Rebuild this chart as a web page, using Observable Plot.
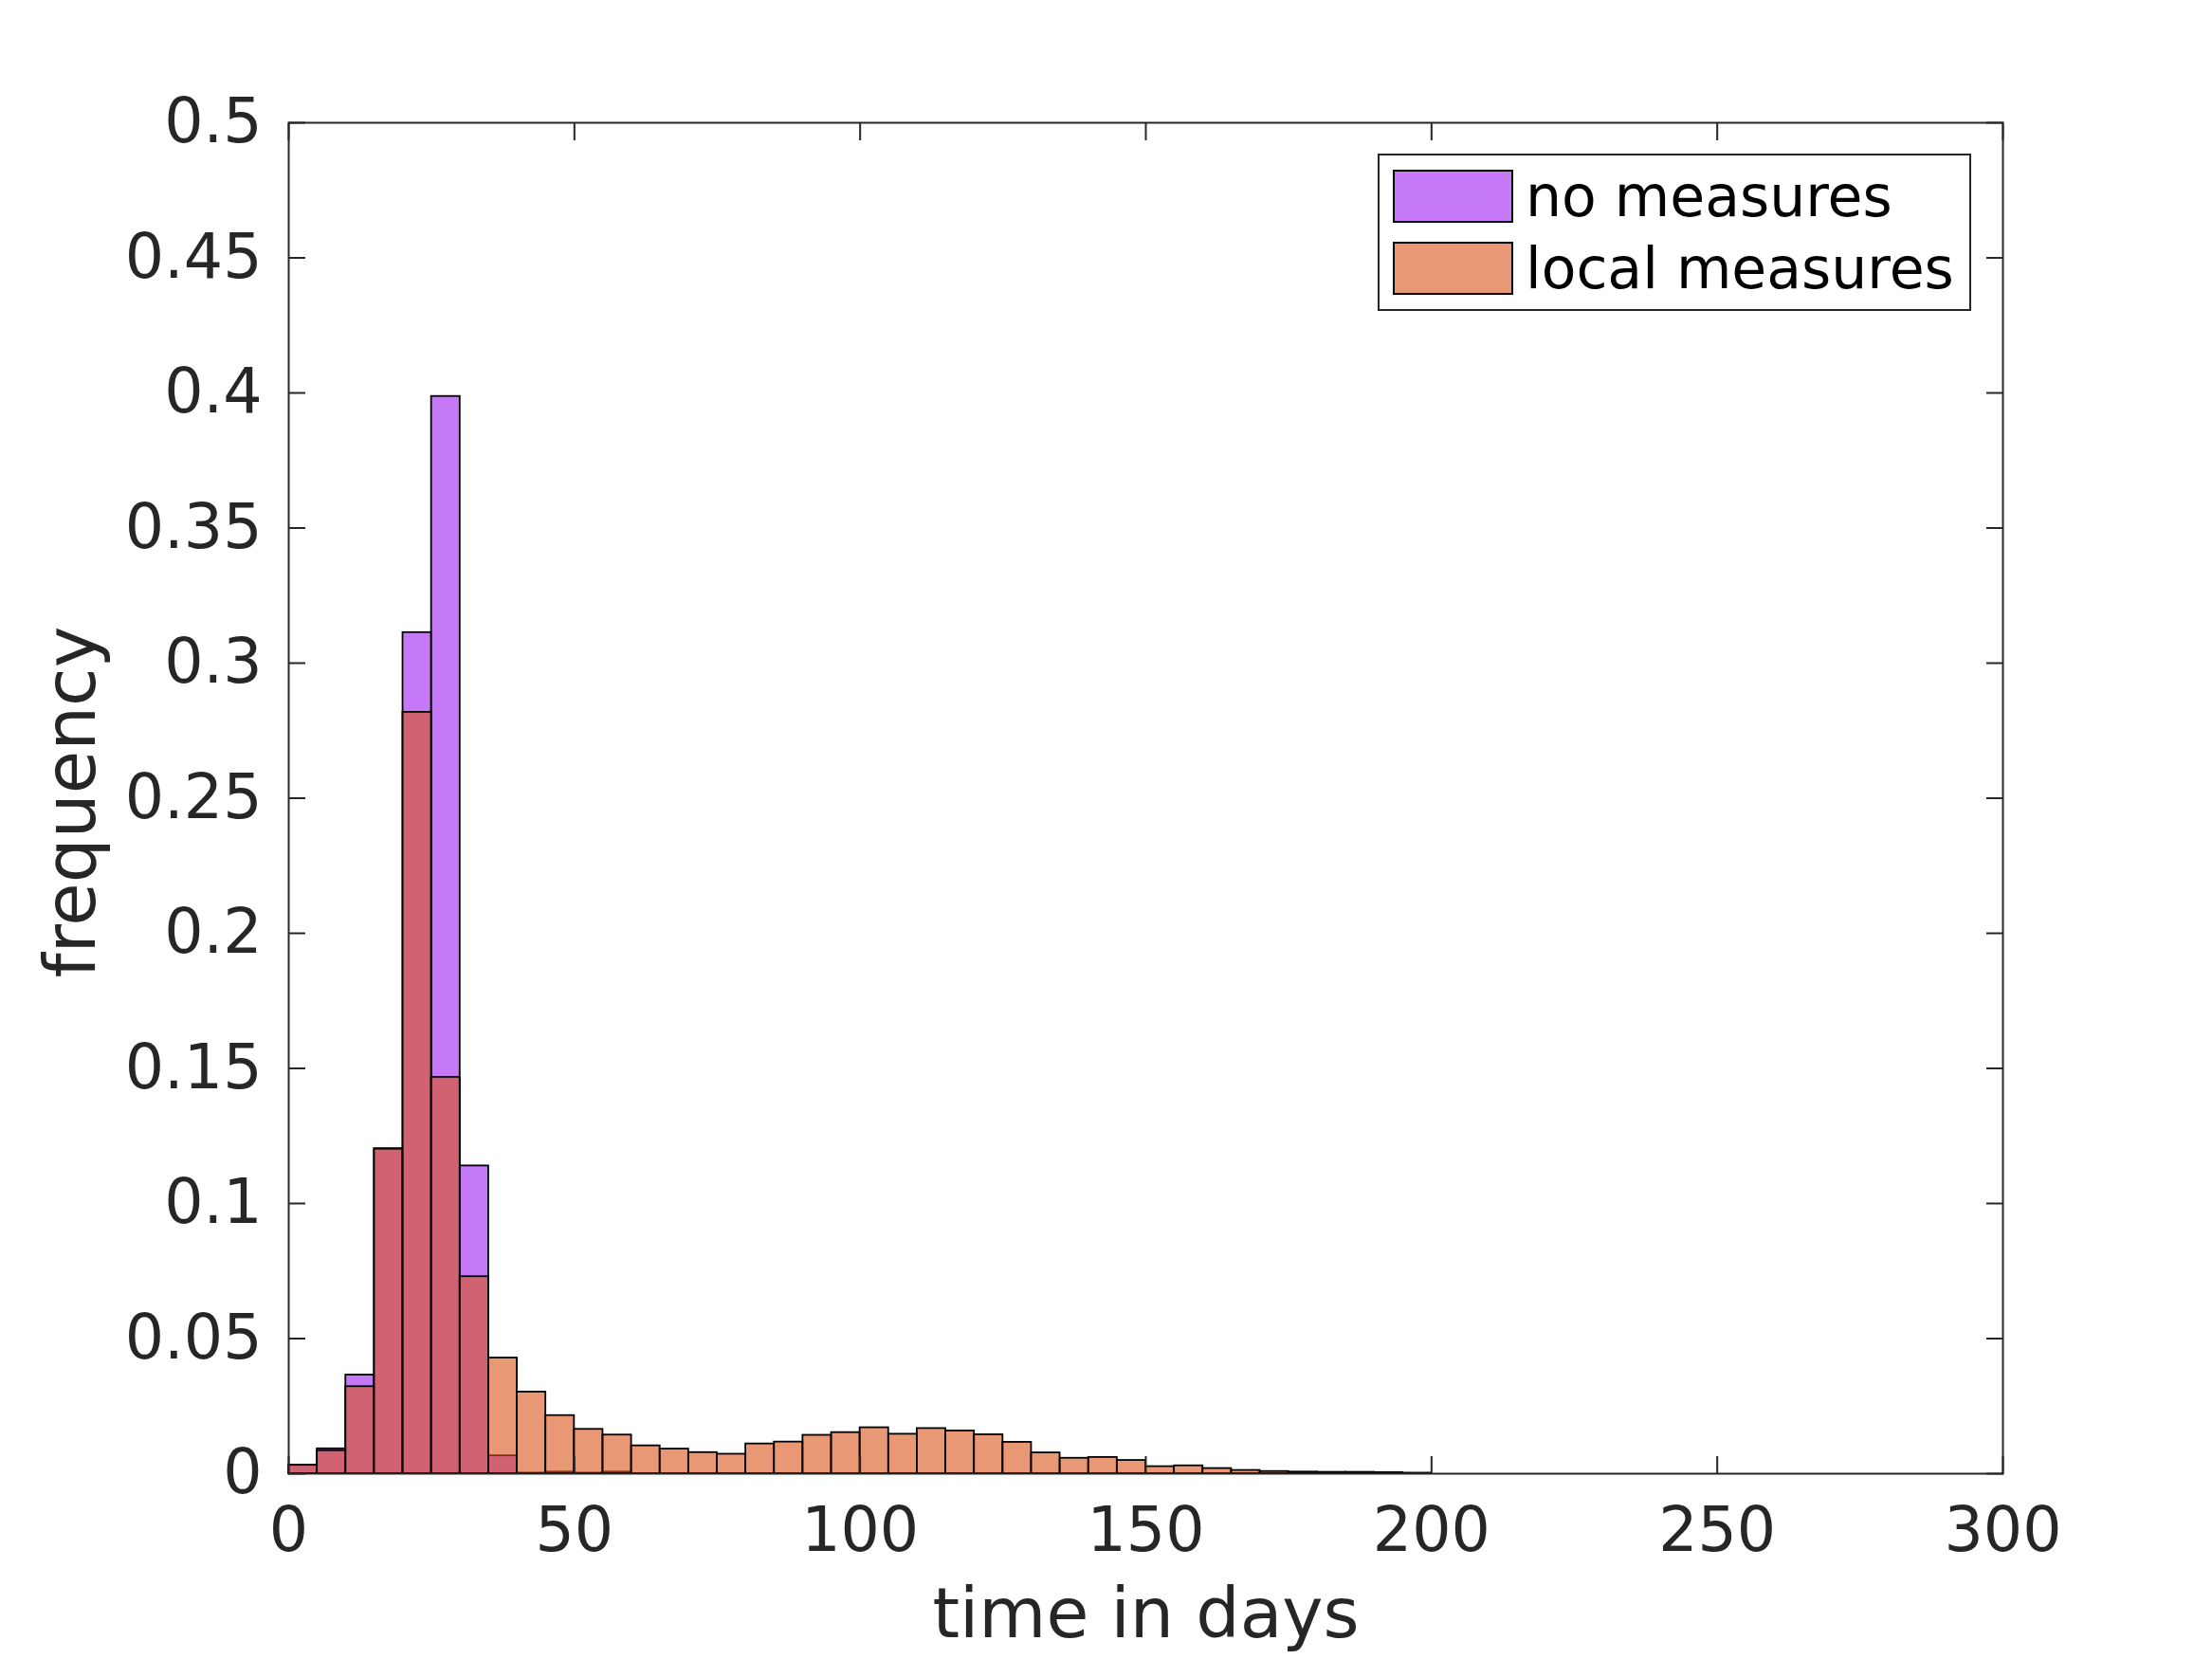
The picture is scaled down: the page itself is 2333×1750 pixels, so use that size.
<!DOCTYPE html>
<html>
<head>
<meta charset="utf-8">
<script src="https://cdn.jsdelivr.net/npm/d3@7"></script>
<script src="https://cdn.jsdelivr.net/npm/@observablehq/plot@0.6"></script>
<style>
  html, body { margin: 0; padding: 0; background: #fff; }
  #wrap { position: relative; width: 2333px; height: 1750px; font-family: "DejaVu Sans", sans-serif; }
  #legend { position: absolute; left: 1453px; top: 162px; }
</style>
</head>
<body>
<div id="wrap"></div>
<script>
// ---- data ----
const binWidth = 5;
const binStart = [0,5,10,15,20,25,30,35,40,45,50,55,60,65,70,75,80,85,90,95,
  100,105,110,115,120,125,130,135,140,145,150,155,160,165,170,175,180,185,190,195,
  200,205,210,215,220,225,230,235,240,245,250,255,260,265,270,275,280,285,290,295];
const noMeasures = [0.0031,0.0092,0.0365,0.1203,0.3113,0.3987,0.1139,0.0066,0.0002,0.0006,
  0.0002,0.0006,0,0,0,0,0,0,0,0,
  0,0,0,0,0,0,0,0,0,0,0,0,0,0,0,0,0,0,0,0,
  0,0,0,0,0,0,0,0,0,0,0,0,0,0,0,0,0,0,0,0];
const localMeasures = [0.0031,0.0085,0.0322,0.1201,0.2818,0.1467,0.0729,0.0428,0.0302,0.0215,
  0.0164,0.0143,0.0103,0.0091,0.0078,0.0072,0.0110,0.0117,0.0142,0.0152,
  0.0170,0.0146,0.0167,0.0158,0.0144,0.0116,0.0077,0.0057,0.0060,0.0049,
  0.0026,0.0029,0.0019,0.0012,0.0008,0.0006,0.0005,0.0005,0.0004,0.0002,
  0,0,0,0,0,0,0,0,0,0,0,0,0,0,0,0,0,0,0,0];
const xTicks = [0,50,100,150,200,250,300];
const xTickLabels = ["0","50","100","150","200","250","300"];
const yTicks = [0,0.05,0.1,0.15,0.2,0.25,0.3,0.35,0.4,0.45,0.5];
const yTickLabels = ["0","0.05","0.1","0.15","0.2","0.25","0.3","0.35","0.4","0.45","0.5"];
const seriesNames = ["no measures","local measures"];
const seriesColors = ["rgb(160,32,240)","rgb(217,83,25)"];
const faceAlpha = 0.6;

const purpleRows = binStart.map((s,i)=>({x1:s, x2:s+binWidth, v:noMeasures[i]})).filter(d=>d.v>0);
const orangeRows = binStart.map((s,i)=>({x1:s, x2:s+binWidth, v:localMeasures[i]}));

const axisColor = "#262626";
const fmtX = d => xTickLabels[xTicks.indexOf(d)];
const fmtY = d => yTickLabels[yTicks.findIndex(t => Math.abs(t-d) < 1e-9)];

const chart = Plot.plot({
  width: 2333,
  height: 1750,
  marginLeft: 304,
  marginRight: 221,
  marginTop: 129,
  marginBottom: 196,
  style: {fontFamily: "DejaVu Sans", background: "#fff", color: axisColor},
  x: {domain: [0, 300]},
  y: {domain: [0, 0.5]},
  marks: [
    Plot.rectY(purpleRows, {x1: "x1", x2: "x2", y: "v", fill: seriesColors[0], fillOpacity: faceAlpha, stroke: "#000", strokeWidth: 1.8}),
    Plot.rectY(orangeRows, {x1: "x1", x2: "x2", y: "v", fill: seriesColors[1], fillOpacity: faceAlpha, stroke: "#000", strokeWidth: 1.8}),
    Plot.frame({stroke: axisColor, strokeWidth: 2}),
    // inward ticks on all four sides
    Plot.axisX({anchor: "bottom", ticks: xTicks, tickSize: -18, tickFormat: () => "", stroke: axisColor, strokeWidth: 2, label: null}),
    Plot.axisX({anchor: "top", ticks: xTicks, tickSize: -18, tickFormat: () => "", stroke: axisColor, strokeWidth: 2, label: null}),
    Plot.axisY({anchor: "left", ticks: yTicks, tickSize: -18, tickFormat: () => "", stroke: axisColor, strokeWidth: 2, label: null}),
    Plot.axisY({anchor: "right", ticks: yTicks, tickSize: -18, tickFormat: () => "", stroke: axisColor, strokeWidth: 2, label: null}),
    // tick labels
    Plot.axisX({anchor: "bottom", ticks: xTicks, tickSize: 0, tickPadding: 35, tickFormat: fmtX, fontSize: 65, fill: axisColor, label: null}),
    Plot.axisY({anchor: "left", ticks: yTicks, tickSize: 0, tickPadding: 28, tickFormat: fmtY, fontSize: 65, fill: axisColor, label: null}),
    // axis titles
    Plot.text(["time in days"], {text: d => d, frameAnchor: "bottom", textAnchor: "middle", lineAnchor: "bottom", dy: 172, fontSize: 73, fill: axisColor}),
    Plot.text(["frequency"], {text: d => d, frameAnchor: "left", textAnchor: "middle", rotate: -90, lineAnchor: "bottom", dx: -205, dy: 4, fontSize: 74, fill: axisColor})
  ]
});
const wrap = document.getElementById("wrap");
wrap.appendChild(chart);

// legend overlay
const ns = "http://www.w3.org/2000/svg";
const lg = document.createElementNS(ns, "svg");
lg.setAttribute("id", "legend");
lg.setAttribute("width", 627);
lg.setAttribute("height", 167);
const box = document.createElementNS(ns, "rect");
box.setAttribute("x", 1); box.setAttribute("y", 1);
box.setAttribute("width", 624); box.setAttribute("height", 164);
box.setAttribute("fill", "#fff"); box.setAttribute("stroke", axisColor); box.setAttribute("stroke-width", 2);
lg.appendChild(box);
seriesNames.forEach((name, i) => {
  const top = 18 + i * 76;
  const sw = document.createElementNS(ns, "rect");
  sw.setAttribute("x", 17); sw.setAttribute("y", top);
  sw.setAttribute("width", 125); sw.setAttribute("height", 54);
  sw.setAttribute("fill", seriesColors[i]); sw.setAttribute("fill-opacity", faceAlpha);
  sw.setAttribute("stroke", "#000"); sw.setAttribute("stroke-width", 2);
  lg.appendChild(sw);
  const t = document.createElementNS(ns, "text");
  t.setAttribute("x", 156); t.setAttribute("y", top + 48);
  t.setAttribute("font-family", "DejaVu Sans"); t.setAttribute("font-size", 60);
  t.setAttribute("fill", "#000");
  t.textContent = name;
  lg.appendChild(t);
});
wrap.appendChild(lg);
</script>
</body>
</html>
